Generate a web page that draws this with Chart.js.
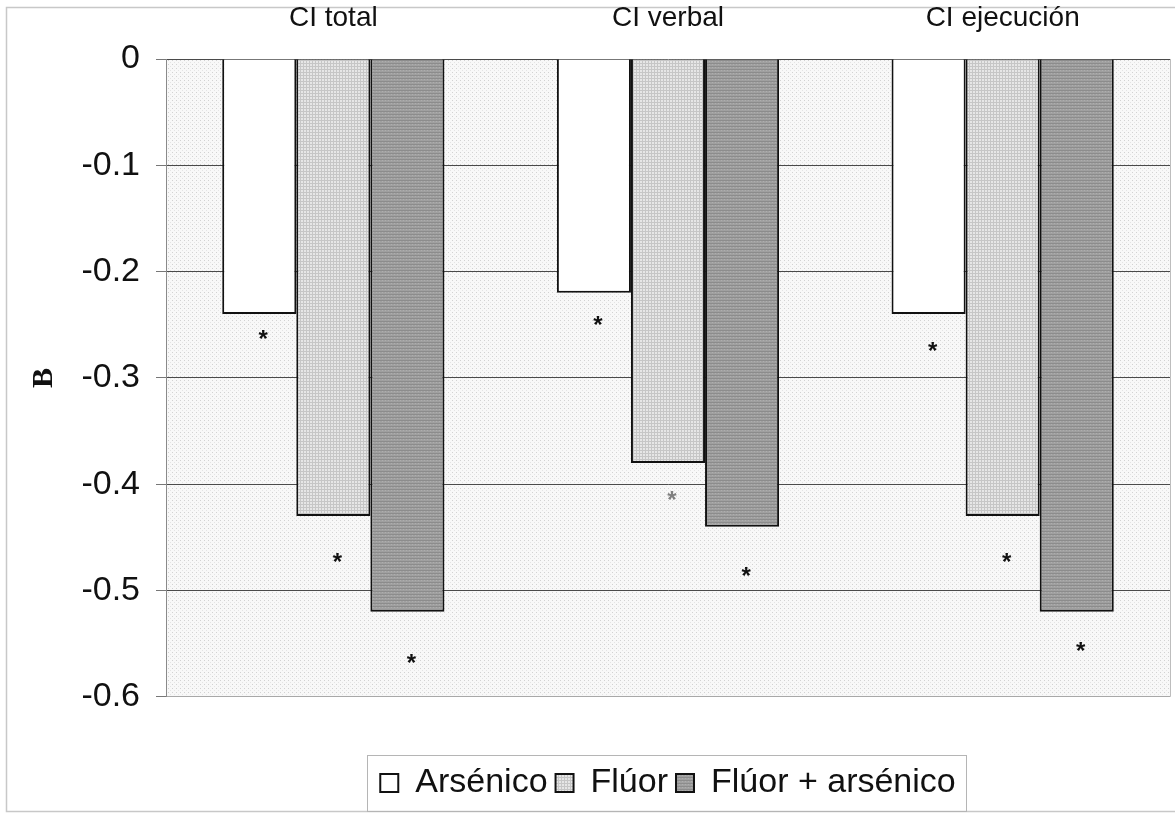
<!DOCTYPE html>
<html>
<head>
<meta charset="utf-8">
<script src="https://cdn.jsdelivr.net/npm/chart.js@4.4.1/dist/chart.umd.min.js"></script>
<style>
  html, body { margin: 0; padding: 0; background: #fff; }
  #wrap { width: 1175px; height: 817px; }
</style>
</head>
<body>
<div id="wrap"><canvas id="ciChart" width="1175" height="817"></canvas></div>
<script>
const categories = ['CI total', 'CI verbal', 'CI ejecución'];
const seriesNames = ['Arsénico', 'Flúor', 'Flúor + arsénico'];
const arsenico = [-0.24, -0.22, -0.24];
const fluor = [-0.43, -0.38, -0.43];
const fluorArsenico = [-0.52, -0.44, -0.52];
// where the significance asterisks sit (value units)
const starsArsenico = [-0.258, -0.245, -0.269];
const starsFluor = [-0.468, -0.41, -0.468];
const starsFluorArsenico = [-0.563, -0.481, -0.552];
const yTicks = [0, -0.1, -0.2, -0.3, -0.4, -0.5, -0.6];

const FONT = '"Liberation Sans", Arial, sans-serif';

function makePattern(size, base, dots) {
  const c = document.createElement('canvas');
  c.width = size; c.height = size;
  const g = c.getContext('2d');
  g.fillStyle = base;
  g.fillRect(0, 0, size, size);
  dots.forEach(d => {
    g.fillStyle = d[2];
    g.fillRect(d[0], d[1], d[3] || 1, d[4] || 1);
  });
  return document.getElementById('ciChart').getContext('2d').createPattern(c, 'repeat');
}

const plotBg = makePattern(4, '#f8f8f8', [[0, 0, '#d2d2d2'], [2, 2, '#e4e4e4']]);
const fluorFill = makePattern(3, '#e6e6e6', [[0, 0, '#c6c6c6', 3, 1], [0, 0, '#c6c6c6', 1, 3]]);
const bothFill = makePattern(3, '#a0a0a0', [[0, 0, '#8c8c8c', 3, 1], [1, 1, '#aeaeae']]);

const frameAndBackground = {
  id: 'frameAndBackground',
  beforeDraw(chart) {
    const ctx = chart.ctx;
    const a = chart.chartArea;
    ctx.save();
    ctx.strokeStyle = '#c8c8c8';
    ctx.lineWidth = 1.5;
    ctx.strokeRect(6.5, 7.5, 1175, 804);
    ctx.fillStyle = plotBg;
    ctx.fillRect(a.left, a.top, a.right - a.left, a.bottom - a.top);
    ctx.strokeStyle = '#bdbdbd';
    ctx.lineWidth = 1;
    ctx.beginPath();
    ctx.moveTo(a.right + 0.5, a.top);
    ctx.lineTo(a.right + 0.5, a.bottom);
    ctx.stroke();
    ctx.restore();
  },
  afterDraw(chart) {
    const boxes = chart.legend.legendHitBoxes;
    if (!boxes || !boxes.length) return;
    const first = boxes[0], last = boxes[boxes.length - 1];
    const ctx = chart.ctx;
    ctx.save();
    ctx.strokeStyle = '#b5b5b5';
    ctx.lineWidth = 1;
    const x0 = Math.round(first.left) - 12.5;
    const x1 = Math.round(last.left + last.width) + 10.5;
    const y0 = Math.round(first.top + first.height / 2) - 27.5;
    ctx.strokeRect(x0, y0, x1 - x0, 56);
    ctx.restore();
  }
};

const starsPlugin = {
  id: 'stars',
  afterDatasetsDraw(chart) {
    const ctx = chart.ctx;
    const y = chart.scales.y;
    const allStars = [starsArsenico, starsFluor, starsFluorArsenico];
    ctx.save();
    ctx.font = 'bold 24px ' + FONT;
    ctx.textAlign = 'center';
    ctx.textBaseline = 'middle';
    allStars.forEach((stars, i) => {
      const meta = chart.getDatasetMeta(i);
      stars.forEach((v, j) => {
        ctx.fillStyle = (i === 1 && j === 1) ? '#808080' : '#111';
        ctx.fillText('*', meta.data[j].x + 4, y.getPixelForValue(v) + 7);
      });
    });
    ctx.restore();
  }
};

new Chart(document.getElementById('ciChart'), {
  type: 'bar',
  data: {
    labels: categories,
    datasets: [
      { label: seriesNames[0], data: arsenico, backgroundColor: '#ffffff', borderColor: '#111', borderWidth: 2 },
      { label: seriesNames[1], data: fluor, backgroundColor: fluorFill, borderColor: '#111', borderWidth: 2 },
      { label: seriesNames[2], data: fluorArsenico, backgroundColor: bothFill, borderColor: '#111', borderWidth: 2 }
    ]
  },
  options: {
    responsive: false,
    animation: false,
    layout: { padding: { left: 0, right: 5, top: 0, bottom: 7 } },
    datasets: { bar: { categoryPercentage: 0.664, barPercentage: 1.0, borderSkipped: 'start' } },
    plugins: {
      legend: {
        position: 'bottom',
        fullSize: false,
        title: { display: true, text: ' ', padding: { top: 0, bottom: 0 }, font: { size: 51 } },
        labels: {
          color: '#111',
          font: { size: 34, family: FONT },
          boxWidth: 18,
          boxHeight: 18,
          padding: 8
        }
      },
      tooltip: { enabled: false },
      title: { display: false }
    },
    scales: {
      x: {
        position: 'top',
        grid: { display: false, drawTicks: false },
        border: { display: false },
        ticks: { color: '#111', padding: 24, font: { size: 28, family: FONT } },
        afterFit(scale) { scale.height = 59; }
      },
      y: {
        min: -0.6,
        max: 0,
        afterBuildTicks(scale) { scale.ticks = yTicks.map(v => ({ value: v })); },
        ticks: {
          color: '#111',
          padding: 16,
          font: { size: 34, family: FONT },
          callback: v => (v === 0 ? '0' : v.toFixed(1))
        },
        grid: {
          color: ctx => (ctx.tick && ctx.tick.value === -0.6 ? '#a8a8a8' : '#4a4a4a'),
          lineWidth: 1,
          tickLength: 10,
          tickColor: '#777'
        },
        border: { display: true, color: '#8a8a8a', width: 1 },
        title: {
          display: true,
          text: 'B',
          color: '#111',
          padding: { top: 26, bottom: 0 },
          font: { size: 30, weight: 'bold', family: '"Liberation Serif", serif' }
        },
        afterFit(scale) { scale.width = 166; }
      }
    }
  },
  plugins: [frameAndBackground, starsPlugin]
});
</script>
</body>
</html>
